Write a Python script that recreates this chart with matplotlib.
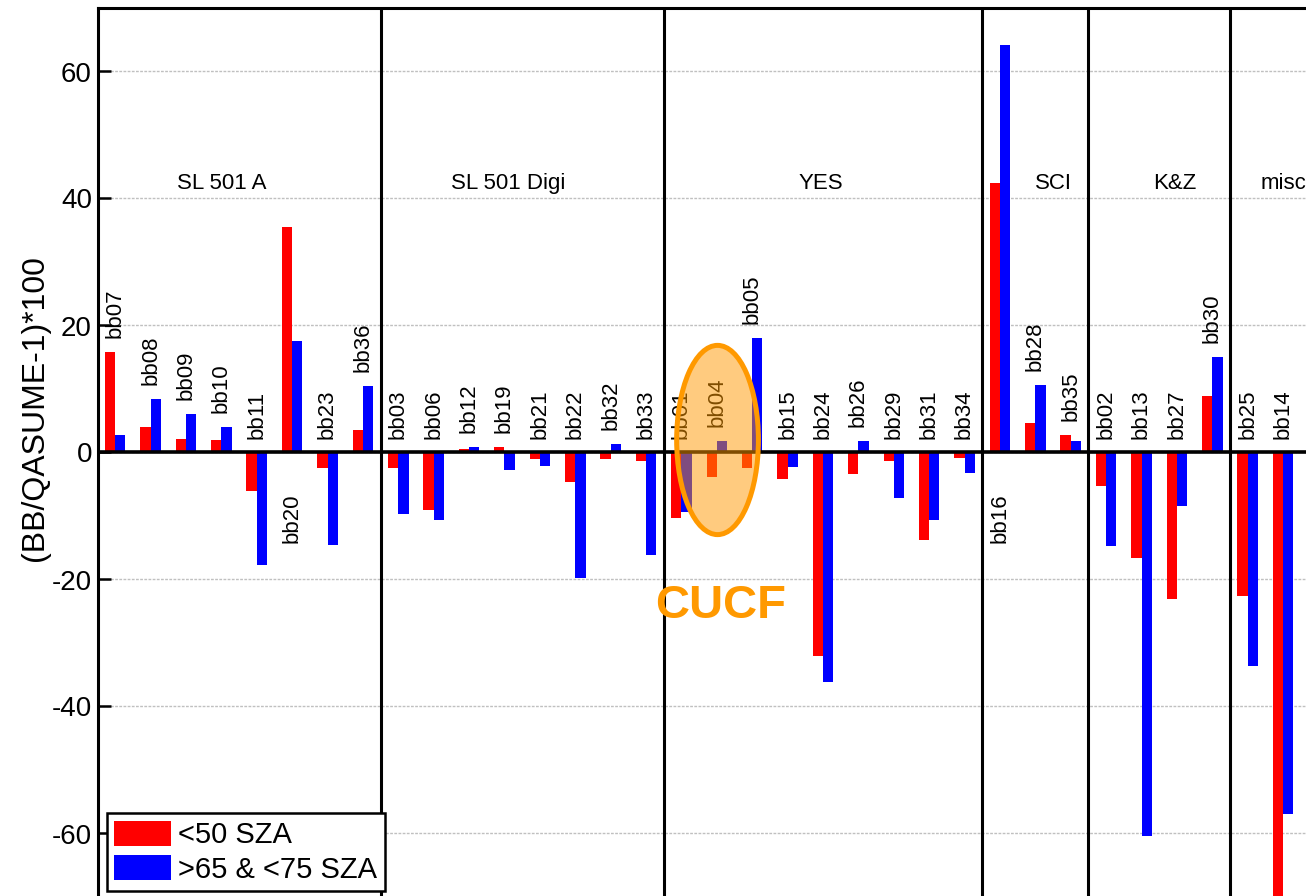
#!/usr/bin/env python3
import matplotlib
matplotlib.use('Agg')
import matplotlib.pyplot as plt
from matplotlib.patches import Ellipse
import numpy as np

plt.rcParams['font.family'] = ['Liberation Sans', 'DejaVu Sans']
plt.rcParams['axes.unicode_minus'] = False

# Instrument groups and the number of stations in each
GROUPS = ['SL 501 A', 'SL 501 Digi', 'YES', 'SCI', 'K&Z', 'misc']
GROUP_SIZES = [8, 8, 9, 3, 4, 2]

STATIONS = ['bb07', 'bb08', 'bb09', 'bb10', 'bb11', 'bb20', 'bb23', 'bb36',
            'bb03', 'bb06', 'bb12', 'bb19', 'bb21', 'bb22', 'bb32', 'bb33',
            'bb01', 'bb04', 'bb05', 'bb15', 'bb24', 'bb26', 'bb29', 'bb31', 'bb34',
            'bb16', 'bb28', 'bb35',
            'bb02', 'bb13', 'bb27', 'bb30',
            'bb25', 'bb14']

# (BB/QASUME-1)*100 for SZA < 50
LOW_SZA = [15.8, 4.0, 2.1, 1.9, -6.1, 35.5, -2.5, 3.6,
           -2.5, -9.1, 0.6, 0.8, -1.1, -4.7, -1.0, -1.3,
           -10.3, -3.8, -2.5, -4.1, -32.0, -3.4, -1.3, -13.8, -0.9,
           42.4, 4.7, 2.7,
           -5.3, -16.6, -23.0, 8.9,
           -22.6, -72.0]

# (BB/QASUME-1)*100 for 65 < SZA < 75
HIGH_SZA = [2.7, 8.4, 6.1, 4.0, -17.7, 17.5, -14.5, 10.4,
            -9.7, -10.7, 0.8, -2.8, -2.2, -19.7, 1.3, -16.2,
            -9.3, 1.8, 18.0, -2.3, -36.1, 1.8, -7.2, -10.6, -3.2,
            64.2, 10.7, 1.8,
            -14.7, -60.4, -8.5, 15.0,
            -33.7, -57.0]

YTICKS = [-60, -40, -20, 0, 20, 40, 60]

# layout
TITLE_X = [3.0, 11.1, 19.95, 26.5, 29.95, 33.0]
TITLE_Y = 41.5
BAR_W = 0.29
HIGHLIGHT = 'bb04'


def main() -> None:
    fig = plt.figure(figsize=(13.06, 8.96), dpi=100)
    # axes run past the right and bottom edge of the picture (cropped view)
    ax = fig.add_axes([97.5 / 1306, 1 - 928.75 / 896, 1238.65 / 1306, 920.75 / 896])
    ax.set_xlim(-0.5, 34.5)
    ax.set_ylim(-75, 70)

    x = np.arange(len(STATIONS))
    ax.bar(x - BAR_W / 2, LOW_SZA, BAR_W, color='#ff0000', label='<50 SZA', zorder=2)
    ax.bar(x + BAR_W / 2, HIGH_SZA, BAR_W, color='#0000ff', label='>65 & <75 SZA', zorder=2)

    # station names above the bars (or below when the bar is too tall)
    for xi, name, lo, hi in zip(x, STATIONS, LOW_SZA, HIGH_SZA):
        top = max(lo, hi, 0)
        if top > 30:
            ax.text(xi, -6.5, name, rotation=90, ha='center', va='top', fontsize=16, zorder=4)
        else:
            ax.text(xi, top + 2.2, name, rotation=90, ha='center', va='bottom', fontsize=16, zorder=4)

    # group separators and titles
    bounds = np.cumsum(GROUP_SIZES)[:-1] - 0.5
    for b in bounds:
        ax.axvline(b, color='k', lw=2.2, zorder=3)
    for gx, g in zip(TITLE_X, GROUPS):
        ax.text(gx, TITLE_Y, g, ha='center', va='baseline', fontsize=16, zorder=4)

    ax.axhline(0, color='k', lw=2.6, zorder=3)
    ax.set_yticks(YTICKS)
    ax.yaxis.grid(True, color='#c0c0c0', lw=1, ls=(0, (2, 1)))
    ax.set_axisbelow(True)
    ax.set_xticks([])
    ax.tick_params(axis='y', direction='in', length=9, width=1.8, labelsize=20, pad=4)
    for side in ['right', 'bottom']:
        ax.spines[side].set_visible(False)
    for side in ['left', 'top']:
        ax.spines[side].set_linewidth(2.2)

    ax.set_ylabel('(BB/QASUME-1)*100', fontsize=23)
    ax.yaxis.set_label_coords(-0.038, 0.566)

    # CUCF highlight
    hx = STATIONS.index(HIGHLIGHT)
    ax.add_patch(Ellipse((hx + 0.02, 1.97), 2.31, 29.8, facecolor=(1, 0.6, 0, 0.5),
                         edgecolor='#ff9900', lw=3.6, zorder=5))
    ax.text(hx + 0.12, -26, 'CUCF', color='#ff9900', fontsize=34, fontweight='bold',
            ha='center', va='baseline', zorder=5)

    leg = ax.legend(loc='lower left', bbox_to_anchor=(0.0077, 0.041), borderaxespad=0,
                    fontsize=21, handlelength=1.95, handleheight=0.95, handletextpad=0.25,
                    borderpad=0.25, labelspacing=0.2, fancybox=False, framealpha=1,
                    edgecolor='k')
    leg.get_frame().set_linewidth(1.8)
    leg.set_zorder(6)

    fig.savefig('out.png', dpi=100)


if __name__ == '__main__':
    main()
